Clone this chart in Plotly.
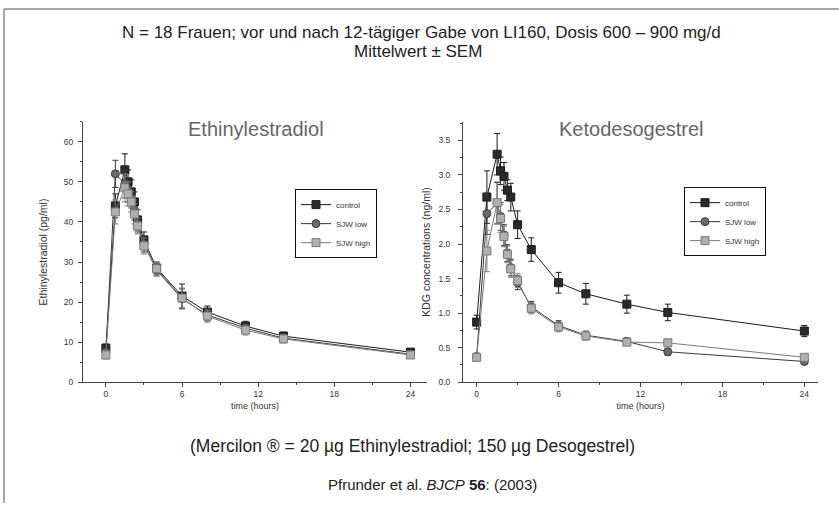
import plotly.graph_objects as go

# ---------------- data ----------------
times = [0, 0.75, 1.5, 1.75, 2, 2.25, 2.5, 3, 4, 6, 8, 11, 14, 24]
series_names = ["control", "SJW low", "SJW high"]

ee_control = [8.5, 44, 53, 50, 47.5, 45, 40.5, 35.5, 28.5, 21.5, 17.5, 14, 11.5, 7.5]
ee_low = [7.5, 52, 49.5, 48, 46, 43, 39.5, 34.5, 28, 20.8, 16.8, 13.5, 11, 7]
ee_high = [6.8, 42.5, 48.5, 47, 45, 42, 39, 34, 28.3, 21, 16.5, 13, 10.8, 6.8]
ee_control_sem = [1, 3, 4, 3, 3, 2.5, 2.5, 2, 1.5, 3, 1.5, 1.2, 1, 0.8]
ee_low_sem = [1, 3.4, 3.5, 3, 2.5, 2.5, 2, 2, 1.5, 2.5, 1.5, 1.2, 1, 0.8]
ee_high_sem = [1, 3, 3.5, 3, 2.5, 2.5, 2, 2, 1.5, 2.5, 1.5, 1.2, 1, 0.8]

kdg_control = [0.87, 2.68, 3.3, 3.06, 2.98, 2.78, 2.68, 2.28, 1.92, 1.44, 1.28, 1.13, 1.01, 0.74]
kdg_low = [0.37, 2.44, 2.59, 2.40, 2.13, 1.87, 1.66, 1.44, 1.09, 0.82, 0.68, 0.59, 0.44, 0.30]
kdg_high = [0.36, 1.90, 2.60, 2.37, 2.11, 1.85, 1.64, 1.47, 1.07, 0.80, 0.67, 0.58, 0.57, 0.36]
kdg_control_sem = [0.1, 0.38, 0.3, 0.2, 0.2, 0.15, 0.2, 0.2, 0.17, 0.15, 0.15, 0.13, 0.12, 0.08]
kdg_low_sem = [0.05, 0.3, 0.3, 0.2, 0.15, 0.12, 0.12, 0.1, 0.08, 0.07, 0.06, 0.05, 0.05, 0.04]
kdg_high_sem = [0.05, 0.3, 0.3, 0.2, 0.15, 0.12, 0.12, 0.1, 0.08, 0.07, 0.06, 0.05, 0.05, 0.04]

x_ticks = [0, 6, 12, 18, 24]
ee_ticks = [0, 10, 20, 30, 40, 50, 60]
kdg_ticks = [0.0, 0.5, 1.0, 1.5, 2.0, 2.5, 3.0, 3.5]

# ---------------- styles ----------------
W, H = 839, 508
FONT = "Liberation Sans, Arial, sans-serif"
styles = [
    dict(line="#1a1a1a", fill="#2a2a2a", symbol="square"),
    dict(line="#3a3a3a", fill="#6a6a6a", symbol="circle"),
    dict(line="#7a7a7a", fill="#b0b0b0", symbol="square"),
]

def px_x(p):
    return p / W

def px_y(p):
    return 1 - p / H

fig = go.Figure()

panels = [
    ([ee_control, ee_low, ee_high], [ee_control_sem, ee_low_sem, ee_high_sem], "x", "y", "legend"),
    ([kdg_control, kdg_low, kdg_high], [kdg_control_sem, kdg_low_sem, kdg_high_sem], "x2", "y2", "legend2"),
]
for vals, sems, xa, ya, lg in panels:
    for name, v, s, st in zip(series_names, vals, sems, styles):
        fig.add_trace(go.Scatter(
            x=times, y=v, name=name, mode="lines+markers",
            xaxis=xa, yaxis=ya, legend=lg,
            line=dict(color=st["line"], width=1),
            marker=dict(symbol=st["symbol"], size=8, color=st["fill"],
                        line=dict(color=st["line"], width=1)),
            error_y=dict(type="data", array=s, visible=True,
                         color=st["line"], thickness=1, width=3),
        ))

axis_common = dict(
    showline=True, linecolor="#444", linewidth=1, ticks="outside", ticklen=4,
    tickcolor="#444", tickwidth=1, showgrid=False, zeroline=False,
    tickfont=dict(size=8.5, color="#333", family=FONT),
    mirror=False,
)

y_dom = [px_y(386), px_y(123)]
minor_x = dict(dtick=3, ticklen=2, ticks="outside", tickcolor="#444")

fig.update_layout(
    width=W, height=H,
    margin=dict(l=0, r=0, t=0, b=0),
    paper_bgcolor="white", plot_bgcolor="white",
    font=dict(family=FONT, color="#222"),
    showlegend=True,
    xaxis=dict(domain=[px_x(83), px_x(427)], range=[-1.8, 25.3], anchor="y",
               tickvals=x_ticks, minor=minor_x,
               title=dict(text="time (hours)", standoff=4,
                          font=dict(size=9, color="#333", family=FONT)), **axis_common),
    yaxis=dict(domain=y_dom, range=[0, 65], anchor="x",
               tickvals=ee_ticks, ticklabelstandoff=3,
               minor=dict(dtick=5, ticklen=2, ticks="outside", tickcolor="#444"),
               title=dict(text="Ethinylestradiol (pg/ml)", standoff=14,
                          font=dict(size=10.5, color="#333", family=FONT)), **axis_common),
    xaxis2=dict(domain=[px_x(463), px_x(818)], range=[-1.0, 25.0], anchor="y2",
                tickvals=x_ticks, minor=minor_x,
                title=dict(text="time (hours)", standoff=4,
                           font=dict(size=9, color="#333", family=FONT)), **axis_common),
    yaxis2=dict(domain=y_dom, range=[0, 3.77], anchor="x2",
                tickvals=kdg_ticks, tickformat=".1f", ticklabelstandoff=6,
                minor=dict(dtick=0.25, ticklen=2, ticks="outside", tickcolor="#444"),
                title=dict(text="KDG concentrations (ng/ml)", standoff=5,
                           font=dict(size=10.5, color="#333", family=FONT)), **axis_common),
    legend=dict(x=px_x(295), y=px_y(191), xanchor="left", yanchor="top",
                bgcolor="white", bordercolor="#111", borderwidth=1,
                font=dict(size=8, family=FONT, color="#333"), itemwidth=30,
                tracegroupgap=0),
    legend2=dict(x=px_x(684), y=px_y(189), xanchor="left", yanchor="top",
                 bgcolor="white", bordercolor="#111", borderwidth=1,
                 font=dict(size=8, family=FONT, color="#333"), itemwidth=30,
                 tracegroupgap=0),
)

# legend drop shadows (offset dark rectangles behind the legend boxes)
for lx, ly in [(295, 191), (684, 189)]:
    fig.add_shape(type="rect", xref="paper", yref="paper",
                  x0=px_x(lx + 4), x1=px_x(lx + 82), y0=px_y(ly + 67), y1=px_y(ly + 4),
                  fillcolor="#111", line=dict(width=0), layer="above")

# panel titles and captions
annots = [
    dict(text="N = 18 Frauen; vor und nach 12-tägiger Gabe von LI160, Dosis 600 – 900 mg/d",
         x=px_x(421), y=px_y(33), size=17, color="#222"),
    dict(text="Mittelwert ± SEM", x=px_x(418), y=px_y(52), size=17, color="#222"),
    dict(text="Ethinylestradiol", x=px_x(256), y=px_y(130), size=20, color="#666"),
    dict(text="Ketodesogestrel", x=px_x(631), y=px_y(130), size=20, color="#666"),
    dict(text="(Mercilon ® = 20 µg Ethinylestradiol; 150 µg Desogestrel)",
         x=px_x(412), y=px_y(450), size=17.5, color="#222"),
    dict(text="Pfrunder et al. <i>BJCP</i> <b>56</b>: (2003)",
         x=px_x(432), y=px_y(489), size=15, color="#222"),
]
for a in annots:
    fig.add_annotation(text=a["text"], x=a["x"], y=a["y"], xref="paper", yref="paper",
                       showarrow=False, xanchor="center", yanchor="middle",
                       font=dict(size=a["size"], color=a["color"], family=FONT))

# frame lines (top and left)
fig.add_shape(type="line", xref="paper", yref="paper", x0=px_x(4), x1=1, y0=px_y(9), y1=px_y(9),
              line=dict(color="#888", width=1.5))
fig.add_shape(type="line", xref="paper", yref="paper", x0=px_x(4), x1=px_x(4), y0=0, y1=px_y(9),
              line=dict(color="#888", width=1.5))

fig.write_html("out.html",
               config={"displayModeBar": False},
               post_script="document.body.style.margin='0';document.body.style.overflow='hidden';")
